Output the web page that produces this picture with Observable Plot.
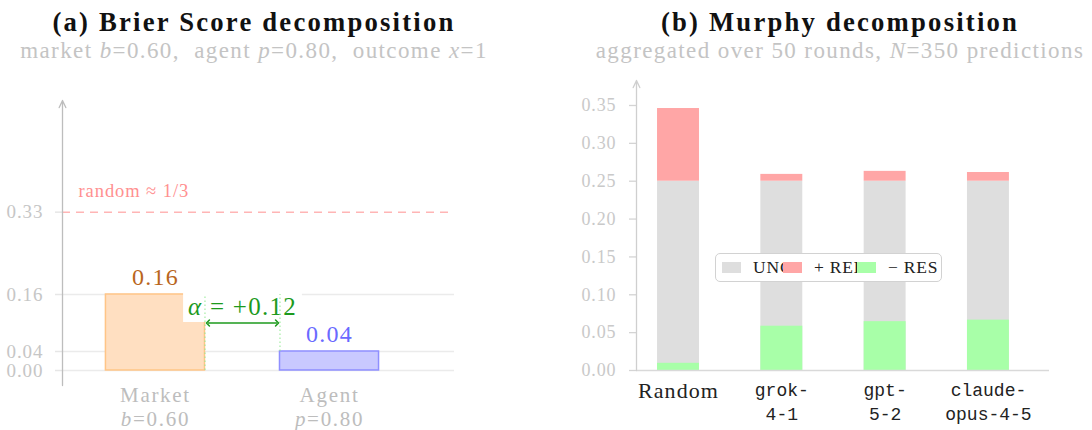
<!DOCTYPE html>
<html>
<head>
<meta charset="utf-8">
<script src="https://cdn.jsdelivr.net/npm/d3@7"></script>
<script src="https://cdn.jsdelivr.net/npm/@observablehq/plot@0.6"></script>
<style>
  html, body { margin: 0; padding: 0; background: #fff; }
  #wrap { position: relative; width: 1092px; height: 430px; overflow: hidden; font-family: "Liberation Serif", serif; }
  .title { position: absolute; text-align: center; font-weight: bold; font-size: 26.7px; line-height: 30px; letter-spacing: 2.2px; color: #111; white-space: nowrap; }
  .sub { position: absolute; text-align: center; font-size: 23px; line-height: 26px; letter-spacing: 1.4px; color: #c4c4c4; white-space: nowrap; }
  .panel { position: absolute; top: 70px; }
  .panel svg text { letter-spacing: 0.05em; }
  .panel svg g[font-family*="Mono"] text { letter-spacing: 0; }
  .panel svg g[aria-label="alpha"] text { letter-spacing: 1.6px; }
  .panel svg g[aria-label="random"] text { letter-spacing: 1.5px; }
  #left svg g[aria-label="x-axis tick label"] text { letter-spacing: 1.7px; }
  #legend { position: absolute; left: 715px; top: 253px; width: 225px; height: 27px; border: 1px solid #d2d2d2; border-radius: 5px; background: #fff; }
  #legend .sw { position: absolute; top: 8px; width: 19px; height: 11px; }
  #legend .lt { position: absolute; top: 2px; font-size: 17.5px; line-height: 22px; color: #222; letter-spacing: 0.8px; white-space: nowrap; }
</style>
</head>
<body>
<div id="wrap">
  <div class="title" style="left:0;width:508px;top:7px">(a) Brier Score decomposition</div>
  <div class="sub" style="left:0;width:508px;top:38px">market <i>b</i>=0.60,&nbsp; agent <i>p</i>=0.80,&nbsp; outcome <i>x</i>=1</div>
  <div class="title" style="left:600px;width:480px;top:7px">(b) Murphy decomposition</div>
  <div class="sub" style="left:590px;width:500px;top:38px">aggregated over 50 rounds, <i>N</i>=350 predictions</div>
  <div class="panel" id="left" style="left:0"></div>
  <div class="panel" id="right" style="left:546px"></div>
  <div id="legend"></div>
</div>
<script>
// ---------- data: panel (a) ----------
const leftCategories = ["Market", "Agent"];
const leftParams = ["b=0.60", "p=0.80"];
const leftScores = [0.16, 0.04];
const leftTickValues = [0, 0.04, 0.16, 1 / 3];
const randomBaseline = 1 / 3;
const randomLabel = "random ≈ 1/3";
const alphaLabel = "α = +0.12";
const leftFills = ["#ffdfc1", "#c9c9ff"];
const leftStrokes = ["#ffc587", "#8f8fff"];
const leftLabelColors = ["#b9661c", "#6a6aff"];

// ---------- data: panel (b) ----------
const rightCategories = ["Random", "grok-\n4-1", "gpt-\n5-2", "claude-\nopus-4-5"];
const uncValues = [0.25, 0.25, 0.25, 0.25];
const relValues = [0.096, 0.009, 0.013, 0.0115];
const resValues = [0.0095, 0.0585, 0.0645, 0.0665];
const rightTickValues = [0, 0.05, 0.10, 0.15, 0.20, 0.25, 0.30, 0.35];
const legendNames = ["UNC", "+ REL", "− RES"];
const legendColors = ["#dedede", "#ffa6a6", "#a8ffa8"];

const fmt2 = d3.format(".2f");

// ---------- panel (a) ----------
const idxL = d3.range(leftCategories.length);
const hwL = 0.2845, gapL = 0.017;
const xDomL = [-0.534, 1.718], yDomL = [-0.0316, 0.5684];
const midL = (leftScores[0] + leftScores[1]) / 2;
const leftPlot = Plot.plot({
  width: 546, height: 360,
  marginLeft: 62, marginRight: 92, marginTop: 30, marginBottom: 45,
  x: { domain: xDomL },
  y: { domain: yDomL },
  style: { fontFamily: "Liberation Serif, serif", background: "transparent", overflow: "visible" },
  marks: [
    Plot.ruleY([0, leftScores[1], leftScores[0]], { stroke: "#ebebeb", strokeWidth: 1.5 }),
    Plot.axisY({ ticks: leftTickValues, tickFormat: fmt2, tickSize: 7, tickPadding: 12,
      stroke: "#e6e6e6", strokeWidth: 1.5, fill: "#c6c6c6", fontSize: 19, label: null }),
    Plot.ruleY([randomBaseline], { stroke: "#ffb5b5", strokeWidth: 1.5, strokeDasharray: "8,6" }),
    Plot.text([randomBaseline], { y: d => d, frameAnchor: "left", textAnchor: "start", lineAnchor: "bottom",
      dx: 16, dy: -15, text: () => randomLabel, fill: "#ff9090", fontSize: 18.5, ariaLabel: "random" }),
    ...idxL.map(i => Plot.rect([i], { x1: d => d - hwL, x2: d => d + hwL, y1: 0, y2: d => leftScores[d],
      fill: leftFills[i], stroke: leftStrokes[i], strokeWidth: 1.5 })),
    ...idxL.map(i => Plot.text([i], { x: d => d, y: d => leftScores[d], text: d => fmt2(leftScores[d]),
      lineAnchor: "bottom", dy: -9, fill: leftLabelColors[i], fontSize: 24 })),
    Plot.text([alphaLabel], { x: () => (idxL[0] + idxL[1]) / 2, y: () => midL, text: d => d,
      lineAnchor: "bottom", dy: -8, fill: "#1d9a1d", fontSize: 25, ariaLabel: "alpha" }),
    Plot.ruleX(idxL, { x: i => i === 0 ? i + hwL : i - hwL, y1: i => i === 0 ? 0 : leftScores[i],
      y2: d3.max(leftScores), stroke: "#8fe98f", strokeWidth: 1, strokeDasharray: "1.5,2.5" }),
    Plot.link([midL], { x1: idxL[0] + hwL + gapL, x2: idxL[1] - hwL - gapL, y1: d => d, y2: d => d,
      stroke: "#1d9a1d", strokeWidth: 1.5, markerStart: "arrow-reverse", markerEnd: "arrow" }),
    Plot.arrow([0], { x1: xDomL[0], x2: xDomL[0], y1: yDomL[0], y2: yDomL[1],
      stroke: "#bdbdbd", strokeWidth: 1.3, headLength: 9, headAngle: 50 }),
    Plot.axisX({ ticks: idxL, tickFormat: i => leftCategories[i] + "\n" + leftParams[i],
      tickSize: 0, tickPadding: -1, fontSize: 21, lineHeight: 1.15, fill: "#bdbdbd", label: null })
  ]
});

// ---------- panel (b) ----------
const idxR = d3.range(rightCategories.length);
const hwR = 0.203;
const xDomR = [-0.4066, 3.591], yDomR = [0, 0.383];
const rightPlot = Plot.plot({
  width: 546, height: 360,
  marginLeft: 90, marginRight: 43, marginTop: 10, marginBottom: 60,
  x: { domain: xDomR },
  y: { domain: yDomR },
  style: { fontFamily: "Liberation Serif, serif", background: "transparent", overflow: "visible" },
  marks: [
    Plot.rect(idxR, { x1: i => i - hwR, x2: i => i + hwR, y1: 0, y2: i => uncValues[i], fill: legendColors[0] }),
    Plot.rect(idxR, { x1: i => i - hwR, x2: i => i + hwR, y1: i => uncValues[i], y2: i => uncValues[i] + relValues[i], fill: legendColors[1] }),
    Plot.rect(idxR, { x1: i => i - hwR, x2: i => i + hwR, y1: 0, y2: i => resValues[i], fill: legendColors[2] }),
    Plot.ruleY([0], { stroke: "#d9d9d9", strokeWidth: 1.5 }),
    Plot.axisY({ ticks: rightTickValues, tickFormat: fmt2, tickSize: 7, tickPadding: 13,
      stroke: "#d4d4d4", strokeWidth: 1.3, fill: "#c9c9c9", fontSize: 18, label: null }),
    Plot.arrow([0], { x1: xDomR[0], x2: xDomR[0], y1: yDomR[0], y2: yDomR[1],
      stroke: "#cfcfcf", strokeWidth: 1.3, headLength: 9, headAngle: 50 }),
    Plot.axisX({ ticks: [idxR[0]], tickFormat: i => rightCategories[i], tickSize: 0, tickPadding: 12,
      fontSize: 22, fill: "#222", label: null }),
    Plot.axisX({ ticks: idxR.slice(1), tickFormat: i => rightCategories[i], tickSize: 0, tickPadding: 9,
      fontSize: 18, lineHeight: 1.3, fontFamily: "Liberation Mono, monospace", fill: "#222", label: null })
  ]
});

// italic single-letter variables (b=, p=, α)
function italicize(root) {
  d3.select(root).selectAll("text, tspan").each(function () {
    if (this.childElementCount) return;
    const m = this.textContent.match(/^([a-zA-Zα])(\s?=.*)$/);
    if (!m) return;
    this.textContent = "";
    const s = d3.select(this);
    s.append("tspan").attr("font-style", "italic").text(m[1]);
    s.append("tspan").text(m[2]);
  });
}

document.getElementById("left").appendChild(leftPlot);
document.getElementById("right").appendChild(rightPlot);

// white box behind the alpha annotation
const at = d3.select(leftPlot).selectAll("text").filter(function () { return this.textContent === alphaLabel; }).node();
if (at) {
  const bb = at.getBBox();
  const tr = at.getAttribute("transform");
  const r = d3.select(at.parentNode).insert("rect", () => at)
    .attr("x", bb.x - 5).attr("y", bb.y - 1)
    .attr("width", bb.width + 10).attr("height", bb.height + 3)
    .attr("fill", "#ffffff").attr("stroke", "none");
  if (tr) r.attr("transform", tr);
}
italicize(leftPlot);

// legend
const legendLeft = [6, 67, 141];
const legend = d3.select("#legend");
legendNames.forEach((name, i) => {
  legend.append("span").attr("class", "sw").style("left", legendLeft[i] + "px").style("background", legendColors[i]);
  legend.append("span").attr("class", "lt").style("left", (legendLeft[i] + 31) + "px").text(name);
});
</script>
</body>
</html>
